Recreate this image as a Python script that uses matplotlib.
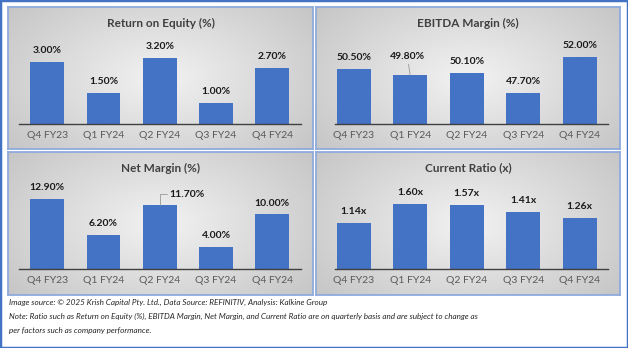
import matplotlib.pyplot as plt
import numpy as np
from matplotlib.patches import Rectangle

# Data
quarters = ['Q4 FY23', 'Q1 FY24', 'Q2 FY24', 'Q3 FY24', 'Q4 FY24']
roe = [3.00, 1.50, 3.20, 1.00, 2.70]
ebitda_margin = [50.50, 49.80, 50.10, 47.70, 52.00]
net_margin = [12.90, 6.20, 11.70, 4.00, 10.00]
current_ratio = [1.14, 1.60, 1.57, 1.41, 1.26]

titles = ['Return on Equity (%)', 'EBITDA Margin (%)', 'Net Margin (%)', 'Current Ratio (x)']
footnote = ['Image source: \u00a9 2025 Krish Capital Pty. Ltd., Data Source: REFINITIV, Analysis: Kalkine Group',
            'Note: Ratio such as Return on Equity (%), EBITDA Margin, Net Margin, and Current Ratio are on quarterly basis and are subject to change as',
            'per factors such as company performance.']

plt.rcParams['font.family'] = ['Lato', 'DejaVu Sans']

W, H = 628, 348
fig = plt.figure(figsize=(W / 100, H / 100), dpi=100)
fig.patch.set_facecolor('white')


def box(x0, y0, x1, y1):
    # pixel box (top-left origin) -> figure fraction rect
    return [x0 / W, 1 - y1 / H, (x1 - x0) / W, (y1 - y0) / H]


# radial grey gradient for panel backgrounds
yy, xx = np.mgrid[-1:1:120j, -1:1:240j]
r = np.clip(np.sqrt(xx ** 2 + (yy * 0.8) ** 2) / 1.25, 0, 1)
light, dark = np.array([0.95, 0.95, 0.95]), np.array([0.78, 0.78, 0.78])
grad = light[None, None, :] * (1 - r[..., None]) + dark[None, None, :] * r[..., None]

blue = '#4472C4'

panels = [
    # panel box, bar axes box, data, ylim, xlim, fmt
    ((8, 7, 313, 149), (19, 40, 300.5, 124), roe, (0, 4.08), (-0.5, 4.5), '{:.2f}%'),
    ((316, 7, 620, 149), (335, 40, 608, 124), ebitda_margin, (44, 54.0), (-0.33, 4.5), '{:.2f}%'),
    ((8, 152, 313, 295), (19, 185, 300.5, 269), net_margin, (0, 15.4), (-0.5, 4.5), '{:.2f}%'),
    ((316, 152, 620, 295), (335, 185, 608, 269), current_ratio, (0, 2.07), (-0.33, 4.5), '{:.2f}x'),
]

for i, (pbox, abox, vals, ylim, xlim, fmt) in enumerate(panels):
    bg = fig.add_axes(box(*pbox), zorder=0)
    bg.imshow(grad, extent=[0, 1, 0, 1], aspect='auto', interpolation='bilinear')
    bg.set_xticks([])
    bg.set_yticks([])
    for s in bg.spines.values():
        s.set_color('#8FAADC')
        s.set_linewidth(1.3)

    ax = fig.add_axes(box(*abox), zorder=1)
    ax.patch.set_visible(False)
    x = np.arange(len(quarters))
    ax.bar(x, vals, width=0.6, color=blue, bottom=0)
    ax.set_ylim(*ylim)
    ax.set_xlim(*xlim)
    ax.set_yticks([])
    ax.set_xticks(x, quarters)
    ax.tick_params(axis='x', length=0, pad=5, labelsize=7.5, labelcolor='#595959')
    for side in ['top', 'left', 'right']:
        ax.spines[side].set_visible(False)
    ax.spines['bottom'].set_color('#404040')
    ax.spines['bottom'].set_linewidth(1.0)

    for j, v in enumerate(vals):
        label = fmt.format(v)
        if i == 1 and j == 1:
            ax.annotate(label, (j, v), xytext=(-2, 10), textcoords='offset points',
                        ha='center', va='bottom', fontsize=7.5, fontweight='bold', color='#1a1a1a',
                        arrowprops=dict(arrowstyle='-', color='#999999', lw=0.6,
                                        shrinkA=0, shrinkB=0))
        elif i == 2 and j == 2:
            ax.annotate(label, (j, v), xytext=(7, 8), textcoords='offset points',
                        ha='left', va='center', fontsize=7.5, fontweight='bold', color='#1a1a1a',
                        arrowprops=dict(arrowstyle='-', color='#999999', lw=0.6,
                                        connectionstyle='angle,angleA=0,angleB=90,rad=0',
                                        shrinkA=0, shrinkB=0))
        else:
            ax.annotate(label, (j, v), xytext=(0, 5), textcoords='offset points',
                        ha='center', va='bottom', fontsize=7.5, fontweight='bold', color='#1a1a1a')

    cx = (pbox[0] + pbox[2]) / 2
    ty = pbox[1] + 16
    fig.text(cx / W, 1 - ty / H, titles[i], ha='center', va='center',
             fontsize=8.5, fontweight='bold', color='#404040')

for k, line in enumerate(footnote):
    fig.text(9 / W, 1 - (302 + 14.5 * k) / H, line, ha='left', va='center',
             fontsize=5.85, fontstyle='italic', color='#262626')

fig.patches.append(Rectangle((0, 0), 1, 1, transform=fig.transFigure, fill=False,
                             edgecolor=blue, linewidth=2.5))

fig.savefig('out.png', dpi=100)
